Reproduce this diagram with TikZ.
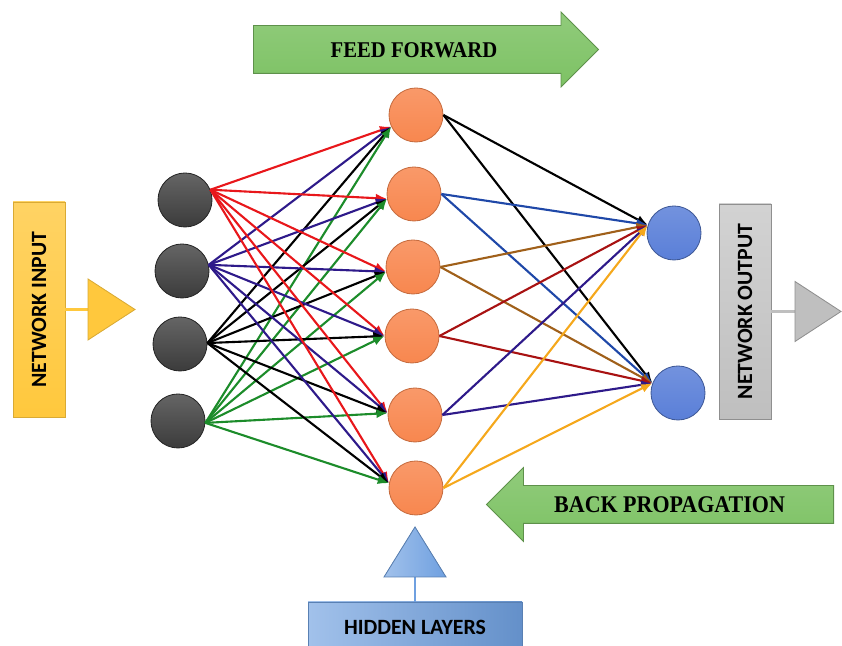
\documentclass[tikz,border=0pt]{standalone}
\usepackage{fontspec}
\setmainfont{Liberation Serif}
\setsansfont{Carlito}
\newfontfamily\arrowfont{Liberation Serif}[FakeStretch=0.92]
\usetikzlibrary{shapes.arrows,arrows.meta,positioning}

\definecolor{inputgray}{HTML}{4A4A4A}
\definecolor{hidorange}{HTML}{F8874F}
\definecolor{outblue}{HTML}{5A7FD8}
\definecolor{boxyellow}{HTML}{FFC83D}
\definecolor{boxgray}{HTML}{BFBFBF}
\definecolor{boxblue}{HTML}{6FA0E0}
\definecolor{arrowgreen}{HTML}{7DC264}
\definecolor{wred}{HTML}{E8171B}
\definecolor{windigo}{HTML}{2E1A8A}
\definecolor{wgreen}{HTML}{1C8C2A}
\definecolor{wblue}{HTML}{1F48A8}
\definecolor{wbrown}{HTML}{A0601A}
\definecolor{wdarkred}{HTML}{A81212}
\definecolor{wgold}{HTML}{F5A81C}

\tikzset{
  neuron/.style={circle,inner sep=0pt,minimum size=1.35cm,line width=0.6pt},
  innode/.style={neuron,draw=black!85,top color=inputgray!85,bottom color=inputgray!80!black},
  hidnode/.style={neuron,draw=hidorange!80!black,top color=hidorange!85!white,bottom color=hidorange},
  outnode/.style={neuron,draw=outblue!70!black,top color=outblue!85!white,bottom color=outblue},
  weight/.style={line width=1.5pt,-{Latex[length=8pt,width=6.5pt]}},
  labelbox/.style={rectangle,rotate=90,minimum width=5.375cm,minimum height=1.3cm,
    font=\sffamily\bfseries\fontsize{15.5}{16}\selectfont,line width=0.6pt},
  bigarrow/.style={single arrow,single arrow head indent=0pt,draw=arrowgreen!75!black,
    top color=arrowgreen!85!white,bottom color=arrowgreen,line width=0.6pt,
    text height=0.4cm,text depth=0cm,inner xsep=2pt}
}

\begin{document}
\begin{tikzpicture}
\clip (0,0) rectangle (21.05,16.15);

% input layer
\node[innode] (i1) at (4.625,11.15) {};
\node[innode] (i2) at (4.55,9.375) {};
\node[innode] (i3) at (4.5,7.55) {};
\node[innode] (i4) at (4.45,5.625) {};

% hidden layer
\node[hidnode] (h1) at (10.4,13.275) {};
\node[hidnode] (h2) at (10.35,11.3) {};
\node[hidnode] (h3) at (10.325,9.475) {};
\node[hidnode] (h4) at (10.3,7.75) {};
\node[hidnode] (h5) at (10.375,5.775) {};
\node[hidnode] (h6) at (10.4,3.95) {};

% output layer
\node[outnode] (o1) at (16.85,10.325) {};
\node[outnode] (o2) at (16.95,6.325) {};

% input -> hidden
\foreach \h/\a in {1/205,2/190,3/190,4/180,5/176,6/170} {
  \draw[weight,wred] (i1.22) -- (h\h.\a);
  \draw[weight,windigo] (i2.13) -- (h\h.\a);
  \draw[weight,black] (i3.2) -- (h\h.\a);
  \draw[weight,wgreen] (i4.-4) -- (h\h.\a);
}

% hidden -> output
\foreach \h/\col in {1/black,2/wblue,3/wbrown,4/wdarkred,5/windigo,6/wgold} {
  \draw[weight,\col] (h\h.east) -- (o1.163);
  \draw[weight,\col] (h\h.east) -- (o2.159);
}

% network input
\node[labelbox,draw=boxyellow!85!black,top color=boxyellow!80!white,bottom color=boxyellow] (netin) at (0.975,8.4125) {NETWORK INPUT};
\coordinate (tin) at (2.2,8.4125);
\draw[line width=2.2pt,boxyellow] (netin) -- (tin);
\filldraw[fill=boxyellow,draw=boxyellow!85!black,line width=0.6pt] (tin) ++(0,0.7625) -- ++(1.175,-0.7625) -- ++(-1.175,-0.7625) -- cycle;

% network output
\node[labelbox,draw=boxgray!75!black,top color=boxgray!70!white,bottom color=boxgray] (netout) at (18.625,8.3625) {NETWORK OUTPUT};
\coordinate (tout) at (19.875,8.3625);
\draw[line width=2.2pt,boxgray] (netout) -- (tout);
\filldraw[fill=boxgray,draw=boxgray!75!black,line width=0.6pt] (tout) ++(0,0.75) -- ++(1.15,-0.75) -- ++(-1.15,-0.75) -- cycle;

% hidden layers
\node[rectangle,minimum width=5.35cm,minimum height=1.25cm,draw=boxblue!80!black,left color=boxblue!65!white,right color=boxblue!90!black,
  font=\sffamily\bfseries\fontsize{15.5}{16}\selectfont,line width=0.6pt] (hidlab) at (10.375,0.475) {HIDDEN LAYERS};
\coordinate (thid) at (10.375,1.725);
\draw[line width=1.8pt,boxblue] (hidlab) -- (thid);
\filldraw[left color=boxblue!65!white,right color=boxblue,draw=boxblue!80!black,line width=0.6pt] (thid) ++(-0.775,0) -- ++(0.775,1.25) -- ++(0.775,-1.25) -- cycle;

% feed forward / back propagation
\node[bigarrow,minimum height=8.625cm,single arrow head extend=0.3375cm,inner ysep=0.3875cm,anchor=tail,
  font=\arrowfont\bfseries\fontsize{16}{16}\selectfont] (ff) at (6.325,14.9125) {FEED FORWARD};
\node[bigarrow,shape border rotate=180,minimum height=8.675cm,single arrow head extend=0.45cm,inner ysep=0.2625cm,anchor=tail,
  font=\arrowfont\bfseries\fontsize{17}{17}\selectfont] (bp) at (20.85,3.5375) {BACK PROPAGATION};

\end{tikzpicture}
\end{document}
